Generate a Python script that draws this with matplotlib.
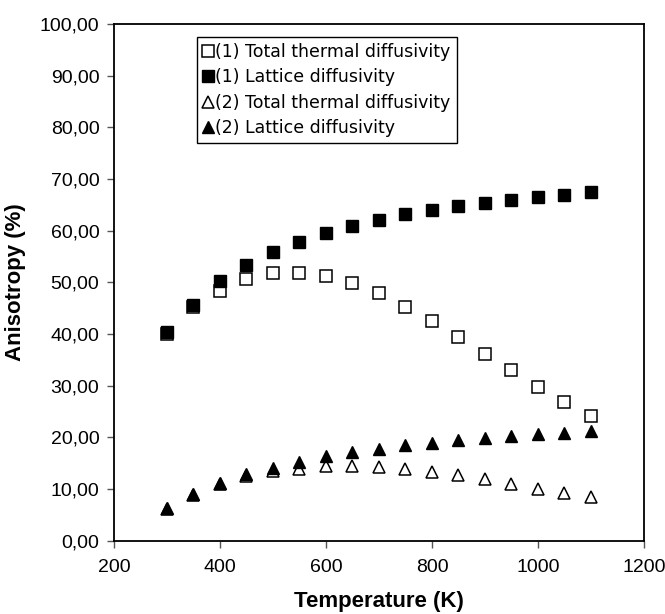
import matplotlib
matplotlib.use("Agg")
import matplotlib.pyplot as plt
from matplotlib.ticker import FuncFormatter

# temperaturas (K)
temperatura = [300, 350, 400, 450, 500, 550, 600, 650, 700, 750,
               800, 850, 900, 950, 1000, 1050, 1100]

# (1) total / red
total_1 = [40.0, 45.2, 48.4, 50.7, 51.8, 51.9, 51.3, 49.9, 47.9, 45.3,
           42.5, 39.4, 36.2, 33.0, 29.8, 26.8, 24.1]
red_1 = [40.3, 45.7, 50.2, 53.4, 55.9, 57.9, 59.5, 60.9, 62.1, 63.2,
         64.0, 64.8, 65.4, 66.0, 66.5, 67.0, 67.5]

# (2) total / red
total_2 = [6.2, 8.9, 10.9, 12.6, 13.4, 13.9, 14.4, 14.5, 14.2, 13.8,
           13.3, 12.7, 11.9, 11.0, 10.1, 9.3, 8.4]
red_2 = [6.3, 9.0, 11.2, 12.9, 14.1, 15.3, 16.3, 17.1, 17.8, 18.5,
         18.9, 19.4, 19.8, 20.2, 20.6, 20.9, 21.2]

etiquetas = ["(1) Total thermal diffusivity", "(1) Lattice diffusivity",
             "(2) Total thermal diffusivity", "(2) Lattice diffusivity"]

fig = plt.figure(figsize=(6.65, 6.14), dpi=100)
ax = fig.add_axes([0.1714, 0.1194, 0.797, 0.8415])

ax.plot(temperatura, total_1, ls="none", marker="s", ms=8, mfc="white",
        mec="black", mew=1.1, label=etiquetas[0])
ax.plot(temperatura, red_1, ls="none", marker="s", ms=8, mfc="black",
        mec="black", label=etiquetas[1])
ax.plot(temperatura, total_2, ls="none", marker="^", ms=8.5, mfc="white",
        mec="black", mew=1.1, label=etiquetas[2])
ax.plot(temperatura, red_2, ls="none", marker="^", ms=8.5, mfc="black",
        mec="black", label=etiquetas[3])

ax.set_xlim(200, 1200)
ax.set_ylim(0, 100)
ax.set_xticks(range(200, 1201, 200))
ax.set_yticks(range(0, 101, 10))
ax.yaxis.set_major_formatter(FuncFormatter(lambda v, p: f"{v:.2f}".replace(".", ",")))

for s in ax.spines.values():
    s.set_linewidth(1.3)
ax.tick_params(direction="out", length=5, width=1, color="#555555",
               labelsize=14)
ax.tick_params(axis="x", pad=8)
ax.tick_params(axis="y", pad=5.5)
for t in ax.get_xticklabels() + ax.get_yticklabels():
    t.set_fontfamily("Liberation Sans")

ax.set_xlabel("Temperature (K)", fontsize=16, fontweight="bold",
              fontfamily="Liberation Sans")
ax.set_ylabel("Anisotropy (%)", fontsize=16, fontweight="bold",
              fontfamily="Liberation Sans")
ax.xaxis.set_label_coords(0.5, -0.097)
ax.yaxis.set_label_coords(-0.166, 0.5)

leg = ax.legend(loc="upper left", bbox_to_anchor=(0.157, 0.975),
                borderaxespad=0, fancybox=False, edgecolor="black",
                framealpha=1, handlelength=0.5, handletextpad=0.2,
                labelspacing=0.43, borderpad=0.35, markerscale=1.0,
                prop={"family": "DejaVu Sans", "size": 12.5})
leg.get_frame().set_linewidth(1.0)

fig.savefig("out.png", dpi=100)
